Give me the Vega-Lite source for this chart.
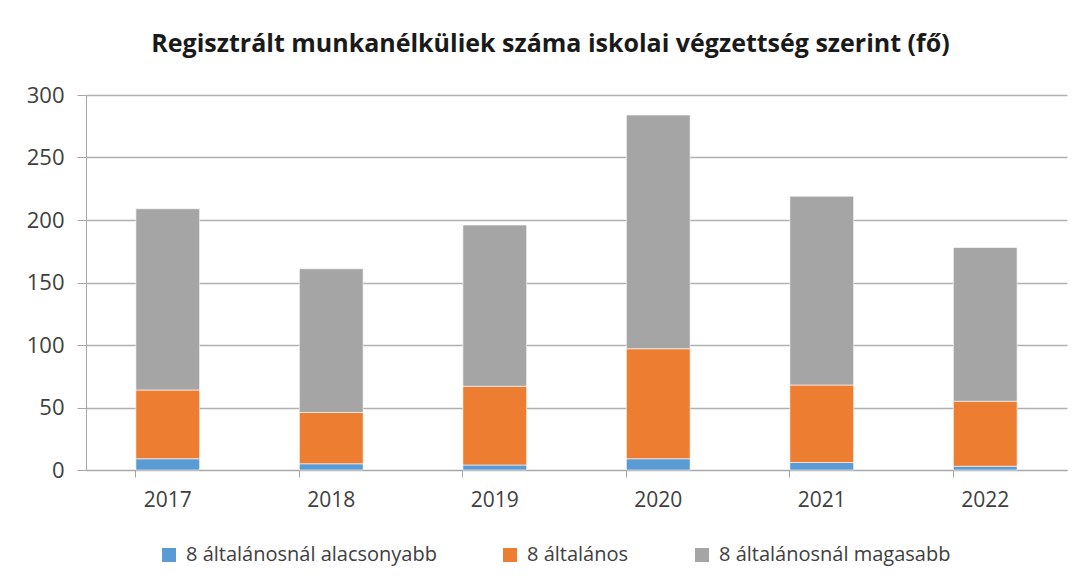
{
  "$schema": "https://vega.github.io/schema/vega-lite/v6.json",
  "width": 981,
  "height": 375,
  "autosize": {"type": "none"},
  "padding": {"left": 86, "top": 95, "right": 16, "bottom": 117},
  "background": "white",
  "title": {
    "text": "Regisztrált munkanélküliek száma iskolai végzettség szerint (fő)",
    "font": "Open Sans",
    "fontSize": 25,
    "fontWeight": "bold",
    "color": "#1a1a1a",
    "anchor": "middle",
    "dx": -26,
    "offset": 27
  },
  "data": {
    "values": [
      {"ev": "2017", "kat": "8 általánosnál alacsonyabb", "sorrend": 1, "fo": 9},
      {"ev": "2017", "kat": "8 általános", "sorrend": 2, "fo": 55},
      {"ev": "2017", "kat": "8 általánosnál magasabb", "sorrend": 3, "fo": 145},
      {"ev": "2018", "kat": "8 általánosnál alacsonyabb", "sorrend": 1, "fo": 5},
      {"ev": "2018", "kat": "8 általános", "sorrend": 2, "fo": 41},
      {"ev": "2018", "kat": "8 általánosnál magasabb", "sorrend": 3, "fo": 115},
      {"ev": "2019", "kat": "8 általánosnál alacsonyabb", "sorrend": 1, "fo": 4},
      {"ev": "2019", "kat": "8 általános", "sorrend": 2, "fo": 63},
      {"ev": "2019", "kat": "8 általánosnál magasabb", "sorrend": 3, "fo": 129},
      {"ev": "2020", "kat": "8 általánosnál alacsonyabb", "sorrend": 1, "fo": 9},
      {"ev": "2020", "kat": "8 általános", "sorrend": 2, "fo": 88},
      {"ev": "2020", "kat": "8 általánosnál magasabb", "sorrend": 3, "fo": 187},
      {"ev": "2021", "kat": "8 általánosnál alacsonyabb", "sorrend": 1, "fo": 6},
      {"ev": "2021", "kat": "8 általános", "sorrend": 2, "fo": 62},
      {"ev": "2021", "kat": "8 általánosnál magasabb", "sorrend": 3, "fo": 151},
      {"ev": "2022", "kat": "8 általánosnál alacsonyabb", "sorrend": 1, "fo": 3},
      {"ev": "2022", "kat": "8 általános", "sorrend": 2, "fo": 52},
      {"ev": "2022", "kat": "8 általánosnál magasabb", "sorrend": 3, "fo": 123}
    ]
  },
  "mark": {"type": "bar", "stroke": "white", "strokeWidth": 0.6},
  "encoding": {
    "x": {
      "field": "ev",
      "type": "nominal",
      "scale": {"paddingInner": 0.61, "paddingOuter": 0.305},
      "axis": {
        "title": null,
        "labelAngle": 0,
        "labelFont": "Open Sans",
        "labelFontSize": 21,
        "labelColor": "#404040",
        "labelPadding": 12,
        "bandPosition": 0,
        "domainColor": "#A6A6A6",
        "tickColor": "#A6A6A6",
        "tickSize": 7,
        "grid": false
      }
    },
    "y": {
      "field": "fo",
      "type": "quantitative",
      "stack": "zero",
      "scale": {"domain": [0, 300]},
      "axis": {
        "title": null,
        "values": [0, 50, 100, 150, 200, 250, 300],
        "labelFont": "Open Sans",
        "labelFontSize": 22,
        "labelColor": "#404040",
        "labelPadding": 13,
        "domainColor": "#A6A6A6",
        "tickColor": "#A6A6A6",
        "tickSize": 9,
        "gridColor": "#B0B0B0",
        "gridWidth": 1.5
      }
    },
    "order": {"field": "sorrend", "type": "quantitative", "sort": "ascending"},
    "color": {
      "field": "kat",
      "type": "nominal",
      "scale": {
        "domain": ["8 általánosnál alacsonyabb", "8 általános", "8 általánosnál magasabb"],
        "range": ["#5B9BD5", "#ED7D31", "#A5A5A5"]
      },
      "legend": {
        "title": null,
        "orient": "none",
        "direction": "horizontal",
        "legendX": 73,
        "legendY": 450,
        "symbolType": "square",
        "symbolSize": 196,
        "symbolStrokeWidth": 0,
        "labelFont": "Open Sans",
        "labelFontSize": 20,
        "labelColor": "#404040",
        "labelLimit": 0,
        "columnPadding": 63,
        "labelOffset": 7
      }
    }
  },
  "config": {"view": {"stroke": null}}
}
